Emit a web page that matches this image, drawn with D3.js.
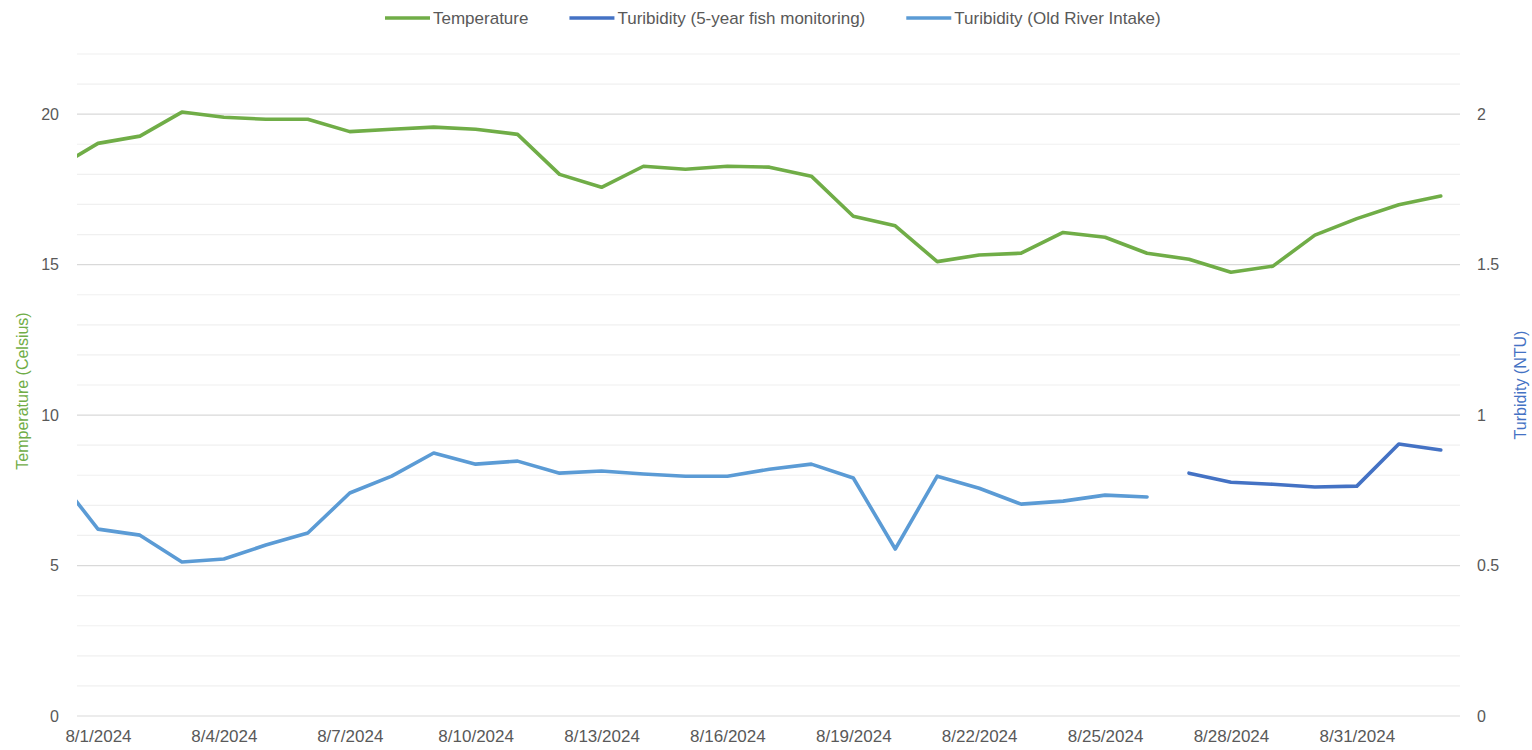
<!DOCTYPE html>
<html>
	<head>
		<meta charset="utf-8">
		<title>Temperature and turbidity</title>
		<style>
			body{margin:0;background:#fff;}
			text{font-family:"Liberation Sans",Arial,sans-serif;}
		</style>
	</head>
	<body>
		<script src="https://cdn.jsdelivr.net/npm/d3@7/dist/d3.min.js"></script>
		<script>
			// dates (7/31 is only partly visible at the left edge)
			var dates = ["2024-07-31","2024-08-01","2024-08-02","2024-08-03","2024-08-04","2024-08-05","2024-08-06",
				"2024-08-07","2024-08-08","2024-08-09","2024-08-10","2024-08-11","2024-08-12","2024-08-13",
				"2024-08-14","2024-08-15","2024-08-16","2024-08-17","2024-08-18","2024-08-19","2024-08-20",
				"2024-08-21","2024-08-22","2024-08-23","2024-08-24","2024-08-25","2024-08-26","2024-08-27",
				"2024-08-28","2024-08-29","2024-08-30","2024-08-31","2024-09-01","2024-09-02"];

			var temperature = [18.2,19.03,19.27,20.07,19.9,19.83,19.83,19.42,19.5,19.57,19.5,19.33,18.0,17.57,
				18.27,18.17,18.27,18.24,17.94,16.61,16.29,15.1,15.32,15.38,16.07,15.91,15.38,15.18,
				14.75,14.95,15.98,16.53,16.99,17.28];

			var turbFish = [null,null,null,null,null,null,null,null,null,null,null,null,null,null,
				null,null,null,null,null,null,null,null,null,null,null,null,null,0.807,
				0.777,0.77,0.761,0.764,0.904,0.884];

			var turbOldRiver = [0.80,0.621,0.601,0.512,0.522,0.568,0.608,0.741,0.797,0.874,0.837,0.847,0.807,0.814,
				0.804,0.797,0.797,0.82,0.837,0.791,0.555,0.797,0.757,0.704,0.714,0.734,0.728,null,
				null,null,null,null,null,null];

			var tempTicks = [0,5,10,15,20];
			var turbTicks = [0,0.5,1,1.5,2];
			var dateTicks = ["2024-08-01","2024-08-04","2024-08-07","2024-08-10","2024-08-13","2024-08-16",
				"2024-08-19","2024-08-22","2024-08-25","2024-08-28","2024-08-31"];

			var seriesNames = ["Temperature","Turibidity (5-year fish monitoring)","Turibidity (Old River Intake)"];
			var colors = ["#70ad47","#4472c4","#5b9bd5"];

			var W = 1532, H = 750;
			var m = {left:77, right:72, top:54, bottom:34};

			var svg = d3.select("body").append("svg")
				.attr("width",W)
				.attr("height",H);

			var parse = d3.utcParse("%Y-%m-%d");

			// scales
			var x = d3.scaleUtc()
				.domain([Date.UTC(2024,6,31,12), Date.UTC(2024,8,2,11)])
				.range([m.left, W-m.right]);
			var yL = d3.scaleLinear().domain([0,22]).range([H-m.bottom, m.top]);
			var yR = d3.scaleLinear().domain([0,2.2]).range([H-m.bottom, m.top]);

			// gridlines, light every 1, darker every 5
			var grid = svg.append("g");
			grid.selectAll("line")
				.data(d3.range(0,23))
				.enter().append("line")
				.attr("x1",m.left).attr("x2",W-m.right)
				.attr("y1",function(d){return yL(d);})
				.attr("y2",function(d){return yL(d);})
				.attr("stroke",function(d){return d%5==0?"#d9d9d9":"#f0f0f0";})
				.attr("stroke-width",1.2);

			// axes
			var gx = svg.append("g")
				.attr("transform","translate(0,"+(H-m.bottom)+")")
				.call(d3.axisBottom(x)
					.tickValues(dateTicks.map(parse))
					.tickFormat(d3.utcFormat("%-m/%-d/%Y"))
					.tickSize(0).tickPadding(14));

			var gl = svg.append("g")
				.attr("transform","translate("+m.left+",0)")
				.call(d3.axisLeft(yL).tickValues(tempTicks).tickSize(0).tickPadding(18));

			var gr = svg.append("g")
				.attr("transform","translate("+(W-m.right)+",0)")
				.call(d3.axisRight(yR).tickValues(turbTicks).tickFormat(d3.format("~g")).tickSize(0).tickPadding(17));

			[gx,gl,gr].forEach(function(g){
				g.select(".domain").remove();
				g.selectAll("text").attr("fill","#595959").style("font-size","16px");
			});
			gx.selectAll("text").style("font-size","17px");

			// axis titles
			svg.append("text")
				.attr("transform","translate(28,"+((m.top+H-m.bottom)/2+6)+") rotate(-90)")
				.attr("text-anchor","middle")
				.attr("fill","#70ad47")
				.style("font-size","16px")
				.text("Temperature (Celsius)");

			svg.append("text")
				.attr("transform","translate(1526,"+((m.top+H-m.bottom)/2)+") rotate(-90)")
				.attr("text-anchor","middle")
				.attr("fill","#4472c4")
				.style("font-size","16px")
				.text("Turbidity (NTU)");

			// lines
			svg.append("clipPath").attr("id","plot")
				.append("rect")
				.attr("x",m.left).attr("y",0)
				.attr("width",W-m.left-m.right).attr("height",H);

			function drawLine(values, scale, color){
				var pts = dates.map(function(d,i){return {date:parse(d), v:values[i]};});
				var line = d3.line()
					.defined(function(d){return d.v!=null;})
					.x(function(d){return x(d.date);})
					.y(function(d){return scale(d.v);});
				svg.append("path")
					.datum(pts)
					.attr("clip-path","url(#plot)")
					.attr("fill","none")
					.attr("stroke",color)
					.attr("stroke-width",3.6)
					.attr("stroke-linejoin","round")
					.attr("stroke-linecap","round")
					.attr("d",line);
			}

			drawLine(turbOldRiver, yR, colors[2]);
			drawLine(turbFish, yR, colors[1]);
			drawLine(temperature, yL, colors[0]);

			// legend
			var lx = 385;
			var legend = svg.append("g").attr("transform","translate(0,18)");
			seriesNames.forEach(function(name,i){
				legend.append("line")
					.attr("x1",lx).attr("x2",lx+45)
					.attr("y1",0).attr("y2",0)
					.attr("stroke",colors[i])
					.attr("stroke-width",3.6);
				var t = legend.append("text")
					.attr("x",lx+48).attr("y",0)
					.attr("dy","0.35em")
					.attr("fill","#595959")
					.style("font-size","17px")
					.text(name);
				lx = lx+48+t.node().getComputedTextLength()+41;
			});
		</script>
	</body>
</html>
